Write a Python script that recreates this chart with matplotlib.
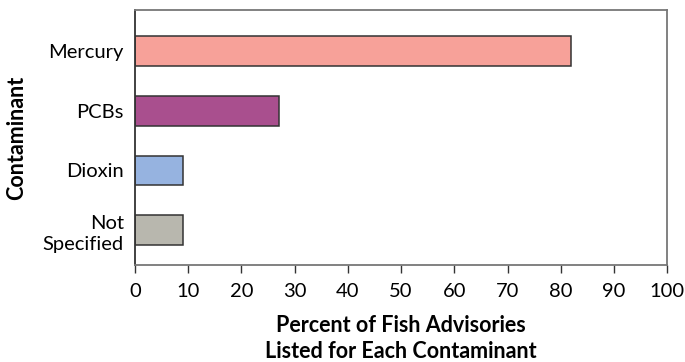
import matplotlib.pyplot as plt
import numpy as np

plt.rcParams['font.family'] = ['Lato', 'DejaVu Sans']

# Data
contaminants = ['Mercury', 'PCBs', 'Dioxin', 'Not\nSpecified']
percents = [82, 27, 9, 9]
colors = ['#F7A199', '#A94F8E', '#96B3E0', '#B8B7AE']
x_ticks = list(range(0, 101, 10))

fig = plt.figure(figsize=(6.85, 3.62), dpi=100)
ax = fig.add_axes([0.197, 0.268, 0.777, 0.704])

pos = np.arange(len(contaminants))
ax.barh(pos, percents, height=0.5, color=colors, edgecolor='#333333', linewidth=1.1)

ax.set_xlim(0, 100)
ax.set_ylim(3.58, -0.68)
ax.set_xticks(x_ticks)
ax.set_xticklabels([str(t) for t in x_ticks], fontsize=14.5)
ax.set_yticks(pos)
ax.set_yticklabels(contaminants, fontsize=14.5, linespacing=1.3)
ax.tick_params(axis='y', length=0, pad=8)
ax.tick_params(axis='x', length=6, width=1, color='#333333', pad=7)

for side in ['top', 'right', 'bottom']:
    ax.spines[side].set_color('#777777')
    ax.spines[side].set_linewidth(1.3)
ax.spines['left'].set_color('#333333')
ax.spines['left'].set_linewidth(1.3)

ax.set_xlabel('Percent of Fish Advisories\nListed for Each Contaminant',
              fontsize=15.5, fontweight='bold', labelpad=11, linespacing=1.25)
ax.set_ylabel('Contaminant', fontsize=15.5, fontweight='bold', labelpad=11)

fig.savefig('out.png', dpi=100)
